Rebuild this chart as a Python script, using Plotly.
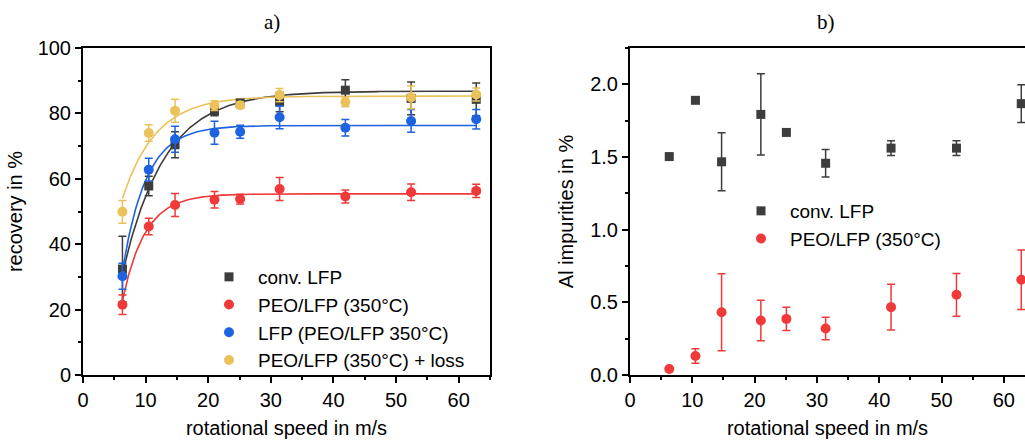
import numpy as np
import plotly.graph_objects as go

# ---------------- data ----------------
speed = [6.3, 10.5, 14.7, 21.0, 25.1, 31.4, 41.9, 52.4, 62.8]

# panel a: recovery in %
conv_rec = [32.4, 57.8, 70.4, 80.8, 83.2, 83.5, 87.1, 84.6, 84.3]
conv_rec_err = [10.0, 3.0, 4.0, 1.5, 1.0, 3.0, 3.2, 5.0, 5.0]
peo_rec = [21.5, 45.4, 52.0, 53.6, 53.8, 56.9, 54.6, 55.9, 56.3]
peo_rec_err = [3.0, 2.5, 3.5, 2.5, 1.5, 3.5, 2.0, 2.5, 2.0]
lfp_rec = [30.2, 62.8, 72.1, 74.1, 74.4, 78.8, 75.6, 77.7, 78.2]
lfp_rec_err = [4.0, 3.5, 4.0, 3.5, 2.0, 3.5, 2.5, 3.5, 3.0]
loss_rec = [49.9, 74.0, 80.8, 82.4, 82.5, 85.6, 83.5, 84.9, 85.8]
loss_rec_err = [3.5, 2.5, 3.5, 1.5, 1.0, 2.0, 1.5, 3.5, 2.0]

# exponential fit parameters: plateau, start value, tau
fit_plateau = [86.8, 55.4, 76.3, 85.3]
fit_start = [31.0, 22.7, 31.9, 54.0]
fit_tau = [6.7, 3.6, 3.8, 5.3]

# panel b: Al impurities in %
conv_al = [1.503, 1.89, 1.467, 1.793, 1.669, 1.457, 1.561, 1.561, 1.867]
conv_al_err = [0.01, 0.02, 0.20, 0.28, 0.02, 0.095, 0.05, 0.05, 0.13]
peo_al = [0.041, 0.131, 0.432, 0.375, 0.386, 0.320, 0.467, 0.552, 0.655]
peo_al_err = [0.0, 0.05, 0.265, 0.14, 0.08, 0.078, 0.158, 0.147, 0.205]

names_a = ["conv. LFP", "PEO/LFP (350°C)", "LFP (PEO/LFP 350°C)", "PEO/LFP (350°C) + loss"]
colors = ["#3d3d3d", "#f03a3a", "#1d63e0", "#ebc25a"]
symbols = ["square", "circle", "circle", "circle"]

FONT = "Liberation Sans, Arial, sans-serif"

fig = go.Figure()

# fit curves (panel a)
xfit = np.linspace(speed[0], speed[-1], 300)
for A, y0, tau, c in zip(fit_plateau, fit_start, fit_tau, colors):
    yfit = A - (A - y0) * np.exp(-(xfit - speed[0]) / tau)
    fig.add_trace(go.Scatter(x=xfit, y=yfit, mode="lines", line=dict(color=c, width=1.6),
                             showlegend=False, hoverinfo="skip", xaxis="x", yaxis="y"))

# data points panel a
series_a = [(conv_rec, conv_rec_err), (peo_rec, peo_rec_err), (lfp_rec, lfp_rec_err), (loss_rec, loss_rec_err)]
for (vals, errs), name, c, s in zip(series_a, names_a, colors, symbols):
    fig.add_trace(go.Scatter(
        x=speed, y=vals, mode="markers", name=name,
        marker=dict(color=c, symbol=s, size=9 if s == "square" else 10),
        error_y=dict(type="data", array=errs, color=c, thickness=1.5, width=4),
        xaxis="x", yaxis="y", legend="legend"))

# panel b
series_b = [(conv_al, conv_al_err), (peo_al, peo_al_err)]
for (vals, errs), name, c, s in zip(series_b, names_a[:2], colors[:2], symbols[:2]):
    fig.add_trace(go.Scatter(
        x=speed, y=vals, mode="markers", name=name,
        marker=dict(color=c, symbol=s, size=9 if s == "square" else 10),
        error_y=dict(type="data", array=errs, color=c, thickness=1.5, width=4),
        xaxis="x2", yaxis="y2", legend="legend2"))

W, H = 1025, 442
ydom = [1 - 375 / H, 1 - 48 / H]

axis_common = dict(showline=True, linewidth=2, linecolor="black", ticks="outside",
                   ticklen=6, tickwidth=2, tickcolor="black", showgrid=False, zeroline=False,
                   automargin=False,
                   tickfont=dict(family=FONT, size=20, color="black"),
                   title_font=dict(family=FONT, size=20, color="black"))

fig.update_layout(
    width=W, height=H,
    margin=dict(l=0, r=0, t=0, b=0, autoexpand=False),
    paper_bgcolor="white", plot_bgcolor="white",
    font=dict(family=FONT, color="black"),
    xaxis=dict(domain=[83 / W, 490 / W], range=[0, 65], dtick=10, mirror=True,
               minor=dict(ticks="outside", dtick=5, ticklen=3, tickwidth=2, tickcolor="black"),
               title=dict(text="rotational speed in m/s", standoff=11), anchor="y", **axis_common),
    yaxis=dict(domain=ydom, range=[0, 100], dtick=20, mirror=True,
               minor=dict(ticks="outside", dtick=10, ticklen=3, tickwidth=2, tickcolor="black"),
               title=dict(text="recovery in %", standoff=10), anchor="x", **axis_common),
    xaxis2=dict(domain=[630 / W, 1.0], range=[0, 63.4], dtick=10, mirror=True,
                minor=dict(ticks="outside", dtick=5, ticklen=3, tickwidth=2, tickcolor="black"),
                title=dict(text="rotational speed in m/s", standoff=11), anchor="y2", **axis_common),
    yaxis2=dict(domain=ydom, range=[0, 2.25], dtick=0.5, tickformat=".1f", mirror=False,
                minor=dict(ticks="outside", dtick=0.25, ticklen=3, tickwidth=2, tickcolor="black"),
                title=dict(text="Al impurities in %", standoff=11), anchor="x2", **axis_common),
    legend=dict(x=200 / W, y=1 - 258 / H, xanchor="left", yanchor="top",
                bgcolor="rgba(0,0,0,0)", font=dict(family=FONT, size=19, color="black"),
                itemwidth=48, tracegroupgap=0),
    legend2=dict(x=732 / W, y=1 - 192 / H, xanchor="left", yanchor="top",
                 bgcolor="rgba(0,0,0,0)", font=dict(family=FONT, size=19, color="black"),
                 itemwidth=48, tracegroupgap=0),
    annotations=[
        dict(text="a)", x=272 / W, y=1 - 22 / H, xref="paper", yref="paper", showarrow=False,
             xanchor="center", yanchor="middle",
             font=dict(family="Liberation Serif, Times New Roman, serif", size=21, color="black")),
        dict(text="b)", x=826 / W, y=1 - 22 / H, xref="paper", yref="paper", showarrow=False,
             xanchor="center", yanchor="middle",
             font=dict(family="Liberation Serif, Times New Roman, serif", size=21, color="black")),
    ],
)

# remove the default page margin so the figure fills the window exactly
fig.write_html("out.html", config={"displayModeBar": False},
               post_script="document.body.style.margin='0px';")
